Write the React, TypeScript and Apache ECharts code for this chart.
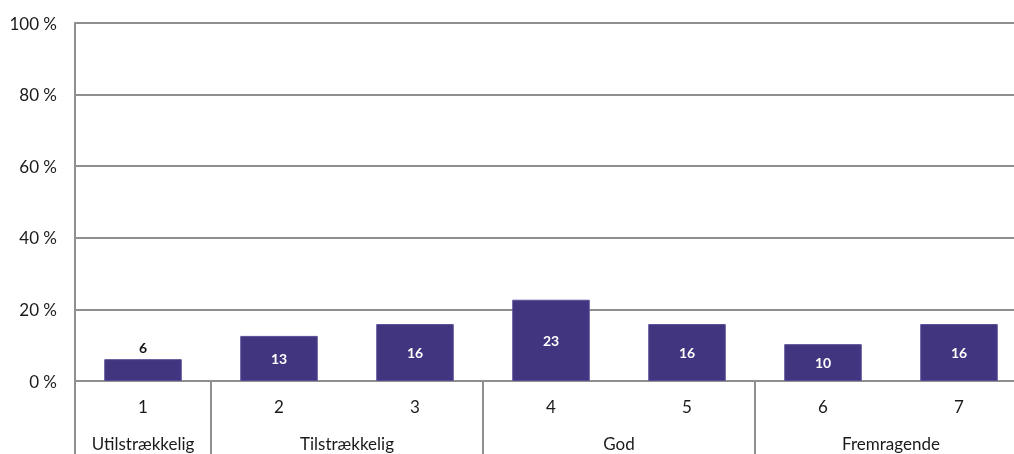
import React, { useEffect, useRef } from "react";
import * as echarts from "echarts";

const categories = ["1", "2", "3", "4", "5", "6", "7"];
const values = [6.1, 12.6, 15.9, 22.7, 15.9, 10.3, 15.9];
const groupLabels = ["Utilstrækkelig", "Tilstrækkelig", "God", "Fremragende"];
// group centres on a half-category scale (0..14)
const groupCentres = [1, 4, 8, 12];
// category indexes where a group starts (separator ticks)
const groupStarts = [0, 1, 3, 5];
const yTicks = [0, 20, 40, 60, 80, 100];

const FONT = "Lato, 'Noto Sans', sans-serif";
const BAR = "#41357f";
const LINE = "#8f8f8f";

export default function App() {
  const ref = useRef<HTMLDivElement>(null);
  useEffect(() => {
    if (!ref.current) return;
    const chart = echarts.init(ref.current, null, { renderer: "svg" });
    chart.setOption({
      animation: false,
      textStyle: { fontFamily: FONT },
      grid: { left: 75, top: 23, width: 952, height: 358, outerBoundsMode: "none", containLabel: false },
      xAxis: [
        {
          type: "category",
          data: categories,
          position: "bottom",
          axisLine: { show: true, lineStyle: { color: LINE, width: 2 } },
          axisTick: {
            show: true,
            length: 80,
            interval: (i: number) => groupStarts.includes(i),
            lineStyle: { color: LINE, width: 2 },
          },
          axisLabel: { color: "#1a1a1a", fontSize: 17, margin: 17, fontFamily: FONT },
        },
        {
          type: "value",
          min: 0,
          max: 14,
          interval: 1,
          position: "bottom",
          axisLine: { show: false },
          axisTick: { show: false },
          splitLine: { show: false },
          axisLabel: {
            color: "#1a1a1a",
            fontSize: 17,
            margin: 54,
            fontFamily: FONT,
            showMinLabel: true,
            showMaxLabel: true,
            formatter: (v: number) => {
              const k = groupCentres.indexOf(Math.round(v));
              return k >= 0 ? groupLabels[k] : "";
            },
          },
        },
      ],
      yAxis: {
        type: "value",
        min: yTicks[0],
        max: yTicks[yTicks.length - 1],
        interval: 20,
        axisLine: { show: true, lineStyle: { color: LINE, width: 2 } },
        axisTick: { show: false },
        splitLine: { show: true, lineStyle: { color: LINE, width: 2 } },
        axisLabel: {
          color: "#1a1a1a",
          fontSize: 17,
          margin: 18,
          fontFamily: FONT,
          formatter: "{value} %",
        },
      },
      series: [
        {
          type: "bar",
          xAxisIndex: 0,
          barWidth: "57%",
          data: values.map((v) => {
            const small = v < 8;
            return {
              value: v,
              label: {
                show: true,
                position: small ? "top" : "inside",
                color: small ? "#111" : "#ffffff",
                fontSize: 14,
                fontWeight: "bold",
                fontFamily: FONT,
                formatter: (p: any) => String(Math.round(p.value)),
              },
            };
          }),
          itemStyle: { color: BAR, borderColor: "#5a4f96", borderWidth: 1 },
        },
      ],
    });
    return () => chart.dispose();
  }, []);
  return (
    <div
      ref={ref}
      style={{ position: "fixed", left: 0, top: 0, width: 1014, height: 454 }}
    />
  );
}
